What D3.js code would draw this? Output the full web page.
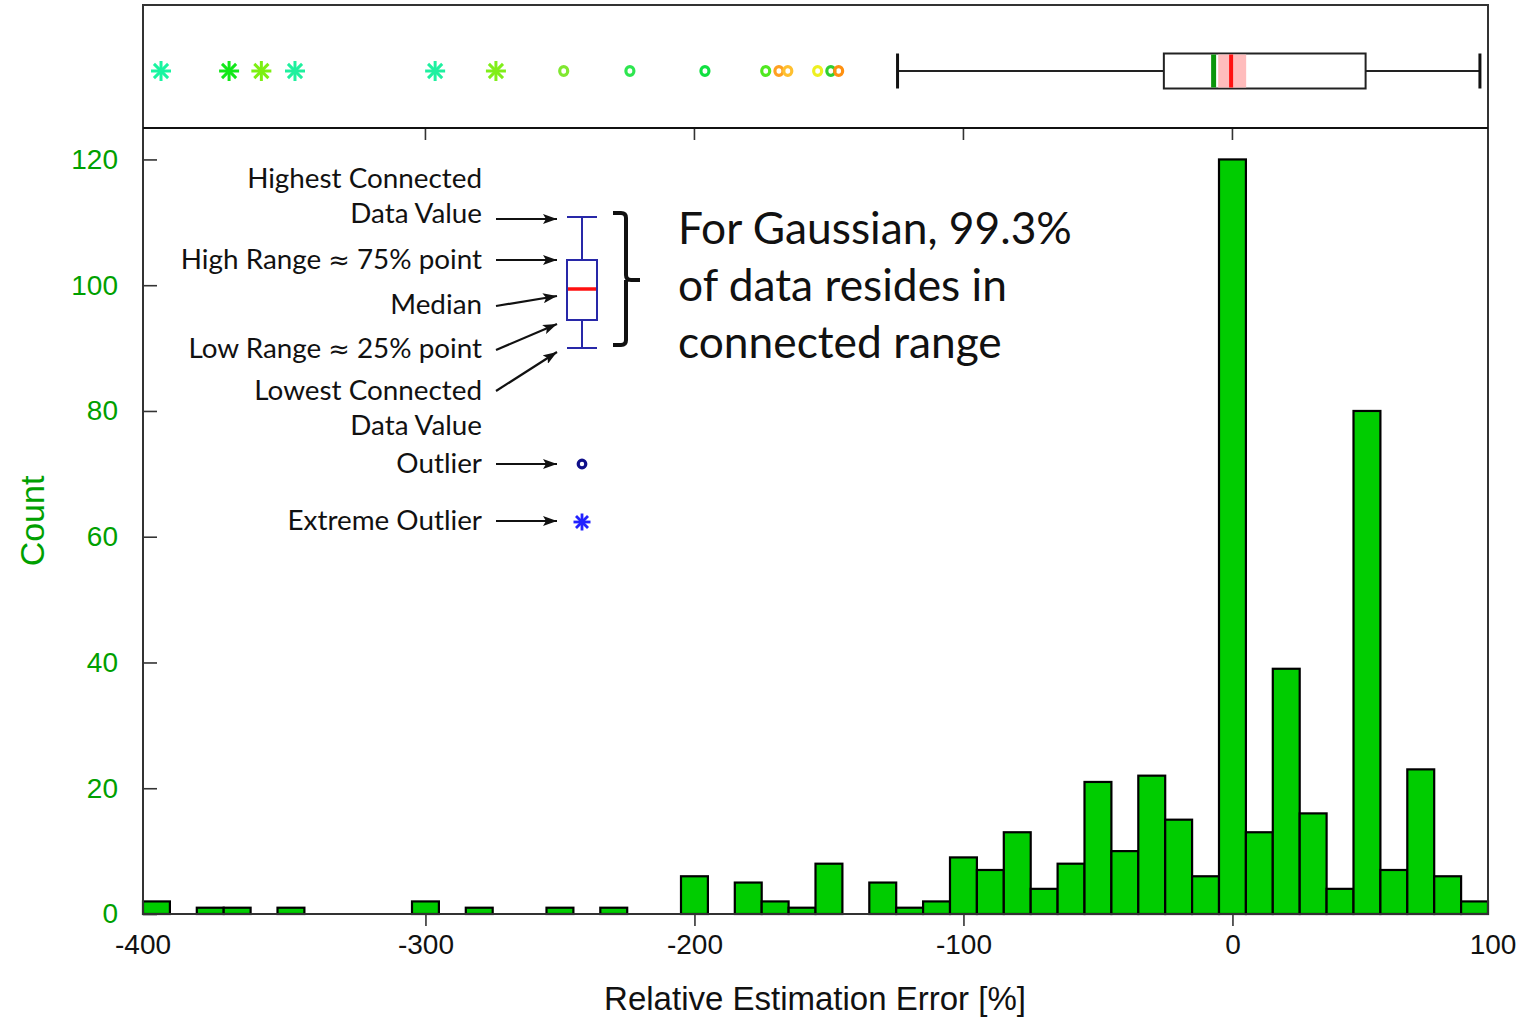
<!DOCTYPE html>
<html>
<head>
<meta charset="utf-8">
<script src="https://cdn.jsdelivr.net/npm/d3@7"></script>
<style>
  html, body { margin: 0; padding: 0; background: #fff; }
  svg { display: block; }
</style>
</head>
<body>
<svg id="chart" width="1527" height="1021"></svg>
<script>
// Histogram of relative estimation error, bins of width 10 centred on these values
const binCenters = [-400, -390, -380, -370, -360, -350, -340, -330, -320, -310,
                    -300, -290, -280, -270, -260, -250, -240, -230, -220, -210,
                    -200, -190, -180, -170, -160, -150, -140, -130, -120, -110,
                    -100,  -90,  -80,  -70,  -60,  -50,  -40,  -30,  -20,  -10,
                       0,   10,   20,   30,   40,   50,   60,   70,   80,   90];
const binCounts  = [2, 0, 1, 1, 0, 1, 0, 0, 0, 0,
                    2, 0, 1, 0, 0, 1, 0, 1, 0, 0,
                    6, 0, 5, 2, 1, 8, 0, 5, 1, 2,
                    9, 7, 13, 4, 8, 21, 10, 22, 15, 6,
                    120, 13, 39, 16, 4, 80, 7, 23, 6, 2];
const binWidth = 10;

const xTickLabels = [-400, -300, -200, -100, 0, 100];
const yTickLabels = [0, 20, 40, 60, 80, 100, 120];

// Box-plot summary shown in the strip above the histogram
const boxWhiskerLow = -124.5;
const boxQ1 = -25.5;
const boxMedian = -0.5;
const boxMean = -7;
const boxQ3 = 49.5;
const boxWhiskerHigh = 92;
const medianBand = [-5.3, 5.1];

// Outliers beyond the whiskers: value, kind and colour
const outlierValues = [-398.3, -373.0, -361.0, -348.5, -296.4, -273.8,
                       -248.6, -224.0, -196.1, -173.5, -168.6, -165.3, -154.2, -149.3, -146.4];
const outlierKinds  = ["extreme", "extreme", "extreme", "extreme", "extreme", "extreme",
                       "mild", "mild", "mild", "mild", "mild", "mild", "mild", "mild", "mild"];
const outlierColors = ["#19f5a0", "#12e81a", "#7cf012", "#1ff09e", "#1ff0a0", "#80ee1a",
                       "#80e830", "#2ee650", "#10e040", "#50e820", "#ffa020", "#ffc030",
                       "#eef020", "#30d030", "#ff9010"];

// Annotation texts (the approx sign is set in a separate glyph run)
const legendLines = [
  { parts: ["Highest Connected"], y: 188 },
  { parts: ["Data Value"], y: 223 },
  { parts: ["High Range ", "\u2248", " 75% point"], y: 269 },
  { parts: ["Median"], y: 314 },
  { parts: ["Low Range ", "\u2248", " 25% point"], y: 358 },
  { parts: ["Lowest Connected"], y: 400 },
  { parts: ["Data Value"], y: 435 },
  { parts: ["Outlier"], y: 473 },
  { parts: ["Extreme Outlier"], y: 530 }
];
const noteLines = ["For Gaussian, 99.3%", "of data resides in", "connected range"];

const svg = d3.select("#chart");
const left = 143, right = 1488, stripTop = 5, plotTop = 128, plotBottom = 914;

const x = d3.scaleLinear().domain([-405, 95]).range([left, right]);
const y = d3.scaleLinear().domain([0, 125]).range([plotBottom, plotTop]);

const green = "#00cc00";
const labelGreen = "#00a000";
const frame = "#333";
const sans = "'Liberation Sans', Arial, sans-serif";

// ---------- histogram bars ----------
const bins = binCenters.map((c, i) => ({ c, n: binCounts[i] })).filter(d => d.n > 0);
svg.append("g").selectAll("rect").data(bins).join("rect")
  .attr("x", d => x(d.c - binWidth / 2))
  .attr("width", d => x(d.c + binWidth / 2) - x(d.c - binWidth / 2))
  .attr("y", d => y(d.n))
  .attr("height", d => y(0) - y(d.n))
  .attr("fill", green)
  .attr("stroke", "#000")
  .attr("stroke-width", 2.2);

// ---------- axes ----------
const plain = d => String(d);
const yAxis = d3.axisLeft(y).tickValues(yTickLabels).tickFormat(plain)
  .tickSizeInner(-14).tickSizeOuter(0).tickPadding(25);
const gy = svg.append("g").attr("transform", `translate(${left},0)`).call(yAxis);
gy.select(".domain").remove();
gy.selectAll(".tick line").attr("stroke", frame).attr("stroke-width", 1.6);
gy.selectAll(".tick text").attr("fill", labelGreen)
  .style("font-family", sans).style("font-size", "28px");

const xAxis = d3.axisBottom(x).tickValues(xTickLabels).tickFormat(plain)
  .tickSizeInner(12).tickSizeOuter(0).tickPadding(8);
const gx = svg.append("g").attr("transform", `translate(0,${plotBottom})`).call(xAxis);
gx.select(".domain").remove();
gx.selectAll(".tick line").attr("stroke", frame).attr("stroke-width", 1.6);
gx.selectAll(".tick text").attr("fill", "#111")
  .style("font-family", sans).style("font-size", "28px");
// end labels sit on the panel edges, without tick marks
const [r0, r1] = x.range();
gx.selectAll(".tick").each(function (d, i, nodes) {
  if (i === 0 || i === nodes.length - 1) {
    const g = d3.select(this);
    g.select("line").remove();
    g.attr("transform", `translate(${i === 0 ? r0 : r1 + 5},0)`);
  }
});

// inward ticks along the top of the histogram panel
svg.append("g").selectAll("line").data(xTickLabels.slice(1, -1)).join("line")
  .attr("x1", d => x(d)).attr("x2", d => x(d))
  .attr("y1", plotTop).attr("y2", plotTop + 12)
  .attr("stroke", frame).attr("stroke-width", 1.6);

// frame lines
svg.append("rect").attr("x", left).attr("y", stripTop)
  .attr("width", right - left).attr("height", plotBottom - stripTop)
  .attr("fill", "none").attr("stroke", frame).attr("stroke-width", 2);
svg.append("line").attr("x1", left).attr("x2", right).attr("y1", plotTop).attr("y2", plotTop)
  .attr("stroke", "#111").attr("stroke-width", 2);

// axis titles
svg.append("text")
  .attr("transform", "translate(44,521) rotate(-90)")
  .attr("text-anchor", "middle")
  .attr("fill", labelGreen)
  .style("font-family", sans).style("font-size", "34px")
  .text("Count");
svg.append("text")
  .attr("x", 815).attr("y", 1010)
  .attr("text-anchor", "middle")
  .attr("fill", "#111")
  .style("font-family", sans).style("font-size", "33px")
  .text("Relative Estimation Error [%]");

// ---------- box-plot strip ----------
const yc = 71, boxH = 35;
const strip = svg.append("g");
strip.append("line").attr("x1", x(boxWhiskerLow)).attr("x2", x(boxQ1)).attr("y1", yc).attr("y2", yc)
  .attr("stroke", "#222").attr("stroke-width", 2);
strip.append("line").attr("x1", x(boxQ3)).attr("x2", x(boxWhiskerHigh)).attr("y1", yc).attr("y2", yc)
  .attr("stroke", "#222").attr("stroke-width", 2);
strip.selectAll("line.cap").data([boxWhiskerLow, boxWhiskerHigh]).join("line").attr("class", "cap")
  .attr("x1", d => x(d)).attr("x2", d => x(d)).attr("y1", yc - boxH / 2).attr("y2", yc + boxH / 2)
  .attr("stroke", "#111").attr("stroke-width", 3);
strip.append("rect").attr("x", x(boxQ1)).attr("y", yc - boxH / 2)
  .attr("width", x(boxQ3) - x(boxQ1)).attr("height", boxH)
  .attr("fill", "#fff").attr("stroke", "#222").attr("stroke-width", 2);
strip.append("rect").attr("x", x(medianBand[0])).attr("y", yc - boxH / 2 + 1)
  .attr("width", x(medianBand[1]) - x(medianBand[0])).attr("height", boxH - 2)
  .attr("fill", "#ffbcbc");
strip.append("line").attr("x1", x(boxMean)).attr("x2", x(boxMean))
  .attr("y1", yc - boxH / 2 + 1).attr("y2", yc + boxH / 2 - 1)
  .attr("stroke", "#0a960a").attr("stroke-width", 5);
strip.append("line").attr("x1", x(boxMedian)).attr("x2", x(boxMedian))
  .attr("y1", yc - boxH / 2 + 1).attr("y2", yc + boxH / 2 - 1)
  .attr("stroke", "#ff1010").attr("stroke-width", 4);

// asterisk marker: four strokes through the centre
function asterisk(g, cx, cy, r, color, w) {
  [0, 45, 90, 135].forEach(a => {
    const t = a * Math.PI / 180;
    g.append("line")
      .attr("x1", cx - r * Math.cos(t)).attr("y1", cy - r * Math.sin(t))
      .attr("x2", cx + r * Math.cos(t)).attr("y2", cy + r * Math.sin(t))
      .attr("stroke", color).attr("stroke-width", w);
  });
}

const outliers = outlierValues.map((v, i) => ({ v, kind: outlierKinds[i], color: outlierColors[i] }));
outliers.forEach(d => {
  if (d.kind === "extreme") {
    asterisk(strip, x(d.v), yc, 10, d.color, 3);
  } else {
    strip.append("ellipse").attr("cx", x(d.v)).attr("cy", yc).attr("rx", 4).attr("ry", 4.4)
      .attr("fill", "none").attr("stroke", d.color).attr("stroke-width", 3.2);
  }
});

// ---------- explanatory key ----------
const key = svg.append("g");
const keyFont = "Lato, 'Open Sans', sans-serif";
const keyTexts = key.selectAll("text.key").data(legendLines).join("text").attr("class", "key")
  .attr("x", 482).attr("y", d => d.y)
  .attr("text-anchor", "end")
  .attr("fill", "#111")
  .style("font-family", keyFont).style("font-size", "28px");
keyTexts.selectAll("tspan").data(d => d.parts).join("tspan")
  .style("font-family", p => p === "\u2248" ? "'DejaVu Sans', sans-serif" : null)
  .style("font-size", p => p === "\u2248" ? "0.92em" : null)
  .text(p => p);
// size the key text so the first line spans the available width
{
  const ref = keyTexts.filter((d, i) => i === 0).node();
  const w = ref.getComputedTextLength();
  keyTexts.style("font-size", (28 * 235 / w) + "px");
}

svg.append("defs").append("marker")
  .attr("id", "arrowHead").attr("viewBox", "0 0 14 10")
  .attr("refX", 14).attr("refY", 5)
  .attr("markerWidth", 14).attr("markerHeight", 10)
  .attr("markerUnits", "userSpaceOnUse")
  .attr("orient", "auto")
  .append("path").attr("d", "M0,0 L14,5 L0,10 L3,5 Z").attr("fill", "#111");

const arrows = [
  [496, 219, 557, 219],
  [496, 260, 557, 260],
  [496, 306, 557, 296],
  [496, 350, 557, 324],
  [496, 391, 557, 352],
  [496, 464, 557, 464],
  [496, 521, 557, 521]
];
key.selectAll("line.arrow").data(arrows).join("line").attr("class", "arrow")
  .attr("x1", d => d[0]).attr("y1", d => d[1]).attr("x2", d => d[2]).attr("y2", d => d[3])
  .attr("stroke", "#111").attr("stroke-width", 2.2)
  .attr("marker-end", "url(#arrowHead)");

// sample box plot
const navy = "#2828a8";
const kx = 582, kw = 30;
key.append("line").attr("x1", kx).attr("x2", kx).attr("y1", 217).attr("y2", 348)
  .attr("stroke", navy).attr("stroke-width", 2);
[217, 348].forEach(cy => key.append("line")
  .attr("x1", kx - kw / 2).attr("x2", kx + kw / 2).attr("y1", cy).attr("y2", cy)
  .attr("stroke", navy).attr("stroke-width", 2));
key.append("rect").attr("x", kx - kw / 2).attr("y", 260).attr("width", kw).attr("height", 60)
  .attr("fill", "#fff").attr("stroke", navy).attr("stroke-width", 2);
key.append("line").attr("x1", kx - kw / 2 + 1).attr("x2", kx + kw / 2 - 1).attr("y1", 289).attr("y2", 289)
  .attr("stroke", "#ff1010").attr("stroke-width", 3.5);
key.append("circle").attr("cx", kx).attr("cy", 464).attr("r", 3.8)
  .attr("fill", "none").attr("stroke", "#10108a").attr("stroke-width", 3.2);
asterisk(key, kx, 522, 8.5, "#2222ff", 2.8);

// brace grouping the connected range
key.append("path")
  .attr("d", "M613,213 L621,213 Q626,213 626,218 L626,275 Q626,280 631,280 L640,280 M626,280 L626,340 Q626,345 621,345 L613,345")
  .attr("fill", "none").attr("stroke", "#111").attr("stroke-width", 4)
  .attr("stroke-linejoin", "round");

// note beside the brace
const notes = key.selectAll("text.note").data(noteLines).join("text").attr("class", "note")
  .attr("x", 678).attr("y", (d, i) => 244 + i * 57)
  .attr("fill", "#111")
  .style("font-family", keyFont).style("font-size", "44px")
  .text(d => d);
{
  const w = notes.filter((d, i) => i === 0).node().getComputedTextLength();
  notes.style("font-size", (44 * 394 / w) + "px");
}
</script>
</body>
</html>
